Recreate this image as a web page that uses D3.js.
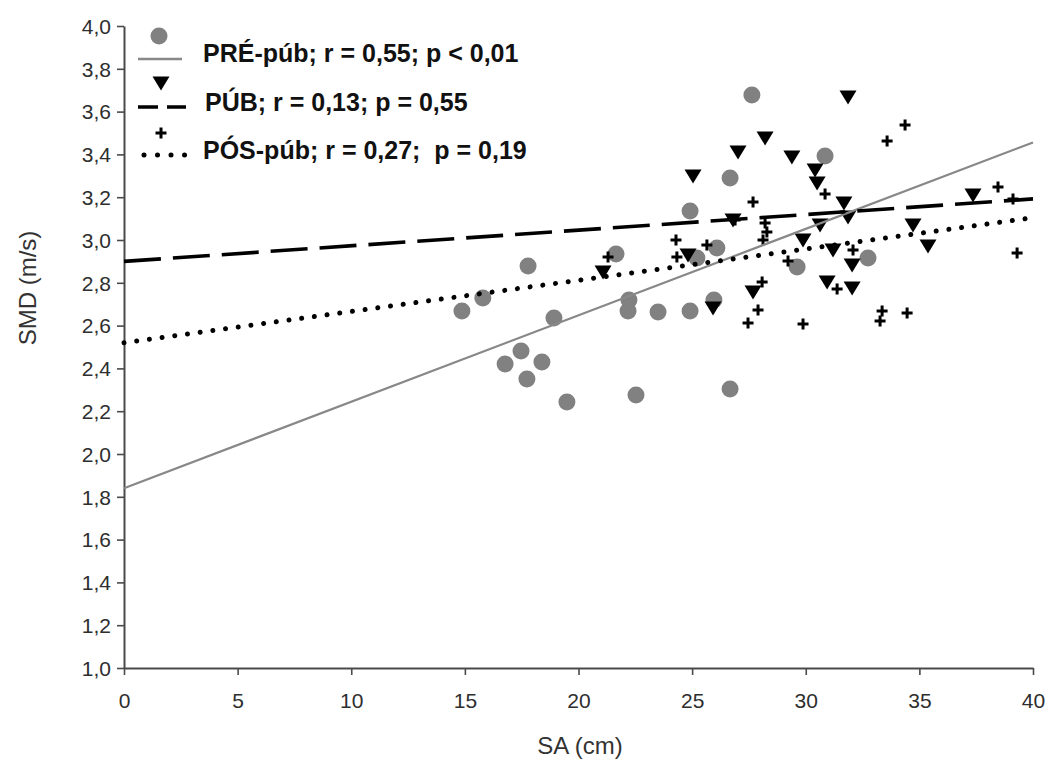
<!DOCTYPE html>
<html>
<head>
<meta charset="utf-8">
<script src="https://cdn.jsdelivr.net/npm/d3@7/dist/d3.min.js"></script>
<style>
  html, body { margin: 0; padding: 0; background: #fff; }
  svg { display: block; }
  text { font-family: "Liberation Sans", Arial, sans-serif; }
</style>
</head>
<body>
<svg id="chart" width="1051" height="760"></svg>
<script>
// ---- Data ----
const preX = [14.87, 15.79, 17.78, 18.92, 17.47, 16.77, 18.39, 17.73, 19.49, 21.65, 22.22, 22.18, 22.53, 23.50, 24.91, 25.96, 26.67, 25.21, 26.09, 26.67, 24.91, 27.63, 30.85, 29.62, 32.74];
const preY = [2.668, 2.729, 2.879, 2.636, 2.481, 2.421, 2.430, 2.350, 2.243, 2.935, 2.720, 2.668, 2.276, 2.664, 2.668, 2.720, 2.304, 2.916, 2.963, 3.290, 3.136, 3.678, 3.393, 2.874, 2.916];

const pubX = [21.08, 24.82, 25.92, 27.68, 25.04, 27.02, 28.21, 29.39, 30.41, 30.50, 26.80, 30.63, 29.88, 31.20, 30.94, 32.04, 32.04, 31.86, 31.68, 31.86, 34.72, 35.38, 37.36];
const pubY = [2.850, 2.930, 2.682, 2.757, 3.299, 3.411, 3.477, 3.388, 3.327, 3.266, 3.093, 3.070, 3.000, 2.953, 2.804, 2.883, 2.776, 3.668, 3.173, 3.107, 3.070, 2.972, 3.210];

const posX = [34.37, 33.58, 27.68, 30.85, 38.46, 39.12, 39.30, 24.29, 21.30, 24.33, 25.65, 26.89, 28.21, 28.29, 28.12, 29.22, 32.08, 28.08, 27.90, 27.46, 29.88, 33.36, 33.27, 34.46, 31.38];
const posY = [3.537, 3.463, 3.178, 3.215, 3.248, 3.192, 2.939, 3.000, 2.921, 2.921, 2.977, 3.093, 3.079, 3.037, 3.000, 2.902, 2.953, 2.804, 2.673, 2.612, 2.607, 2.668, 2.621, 2.659, 2.771];

// regression lines: [intercept, slope]
const preFit = [1.84, 0.0404];
const pubFit = [2.90, 0.0073];
const posFit = [2.52, 0.0146];
const fitRange = [0, 40];

const xTicks = [0, 5, 10, 15, 20, 25, 30, 35, 40];
const yTicks = [1.0, 1.2, 1.4, 1.6, 1.8, 2.0, 2.2, 2.4, 2.6, 2.8, 3.0, 3.2, 3.4, 3.6, 3.8, 4.0];
const yTickLabels = ["1,0","1,2","1,4","1,6","1,8","2,0","2,2","2,4","2,6","2,8","3,0","3,2","3,4","3,6","3,8","4,0"];

const legendLabels = ["PRÉ-púb; r = 0,55; p < 0,01", "PÚB; r = 0,13; p = 0,55", "PÓS-púb; r = 0,27;  p = 0,19"];
const xTitle = "SA (cm)";
const yTitle = "SMD (m/s)";

// ---- Chart ----
const svg = d3.select("#chart");
const x = d3.scaleLinear().domain([0, 40]).range([124, 1033]);
const y = d3.scaleLinear().domain([1, 4]).range([668, 26]);

const axisColor = "#4a4a4a";
const grayMark = "#818181";

// axes
const gx = svg.append("g").attr("transform", `translate(0,${y(1)})`)
  .call(d3.axisBottom(x).tickValues(xTicks).tickSize(7).tickSizeOuter(0).tickPadding(18).tickFormat(d => String(d)));
const gy = svg.append("g").attr("transform", `translate(${x(0)},0)`)
  .call(d3.axisLeft(y).tickValues(yTicks).tickSize(7).tickSizeOuter(0).tickPadding(6)
    .tickFormat((d, i) => yTickLabels[i]));

[gx, gy].forEach(g => {
  g.select(".domain").attr("stroke", axisColor).attr("stroke-width", 2);
  g.selectAll(".tick line").attr("stroke", axisColor).attr("stroke-width", 1.6);
  g.selectAll(".tick text").attr("fill", "#2e2e2e").attr("font-size", 21)
    .attr("font-family", "'Liberation Sans', Arial, sans-serif");
});
gy.selectAll(".tick text").attr("dy", "0.35em");

// axis titles
svg.append("text").attr("x", 580).attr("y", 754).attr("text-anchor", "middle")
  .attr("font-size", 24).attr("fill", "#333").text(xTitle);
svg.append("text").attr("transform", `translate(36,${288}) rotate(-90)`).attr("text-anchor", "middle")
  .attr("font-size", 24).attr("fill", "#333").text(yTitle);

// markers
const triPath = "M-8.5,-6.5L8.5,-6.5L0,7.5Z";
const plusPath = "M-5.5,0H5.5M0,-5.5V5.5";

const preData = preX.map((v, i) => ({x: v, y: preY[i]}));
const pubData = pubX.map((v, i) => ({x: v, y: pubY[i]}));
const posData = posX.map((v, i) => ({x: v, y: posY[i]}));

svg.append("g").selectAll("circle").data(preData).join("circle")
  .attr("cx", d => x(d.x)).attr("cy", d => y(d.y)).attr("r", 8.5).attr("fill", grayMark);

svg.append("g").selectAll("path").data(pubData).join("path")
  .attr("transform", d => `translate(${x(d.x)},${y(d.y)})`).attr("d", triPath).attr("fill", "#000");

svg.append("g").selectAll("path").data(posData).join("path")
  .attr("transform", d => `translate(${x(d.x)},${y(d.y)})`).attr("d", plusPath)
  .attr("stroke", "#000").attr("stroke-width", 3).attr("fill", "none");

// regression lines
const fitLine = fit => d3.line().x(d => x(d)).y(d => y(fit[0] + fit[1] * d))(fitRange);
svg.append("path").attr("d", fitLine(preFit)).attr("stroke", "#888").attr("stroke-width", 2.2).attr("fill", "none");
svg.append("path").attr("d", fitLine(pubFit)).attr("stroke", "#000").attr("stroke-width", 3.6)
  .attr("stroke-dasharray", "37 12").attr("fill", "none");
svg.append("path").attr("d", fitLine(posFit)).attr("stroke", "#000").attr("stroke-width", 5)
  .attr("stroke-dasharray", "0.01 12.8").attr("stroke-linecap", "round").attr("fill", "none");

// legend
const lg = svg.append("g");
lg.append("circle").attr("cx", 159).attr("cy", 36).attr("r", 8.5).attr("fill", grayMark);
lg.append("line").attr("x1", 138).attr("x2", 182).attr("y1", 59).attr("y2", 59).attr("stroke", "#888").attr("stroke-width", 2.5);
lg.append("path").attr("transform", "translate(161,83)").attr("d", triPath).attr("fill", "#000");
lg.append("line").attr("x1", 138).attr("x2", 186).attr("y1", 107).attr("y2", 107).attr("stroke", "#000").attr("stroke-width", 3.6).attr("stroke-dasharray", "20 9");
lg.append("path").attr("transform", "translate(161,133)").attr("d", plusPath).attr("stroke", "#000").attr("stroke-width", 3);
lg.append("line").attr("x1", 144).attr("x2", 186).attr("y1", 155).attr("y2", 155).attr("stroke", "#000").attr("stroke-width", 5).attr("stroke-dasharray", "0.01 13.5").attr("stroke-linecap", "round");

const legendBaselines = [62, 111, 159];
const legendX = [203, 205, 203];
lg.selectAll("text.lab").data(legendLabels).join("text").attr("class", "lab")
  .attr("x", (d, i) => legendX[i]).attr("y", (d, i) => legendBaselines[i])
  .attr("font-size", 25).attr("font-weight", "bold").attr("fill", "#111")
  .style("white-space", "pre").text(d => d);
</script>
</body>
</html>
